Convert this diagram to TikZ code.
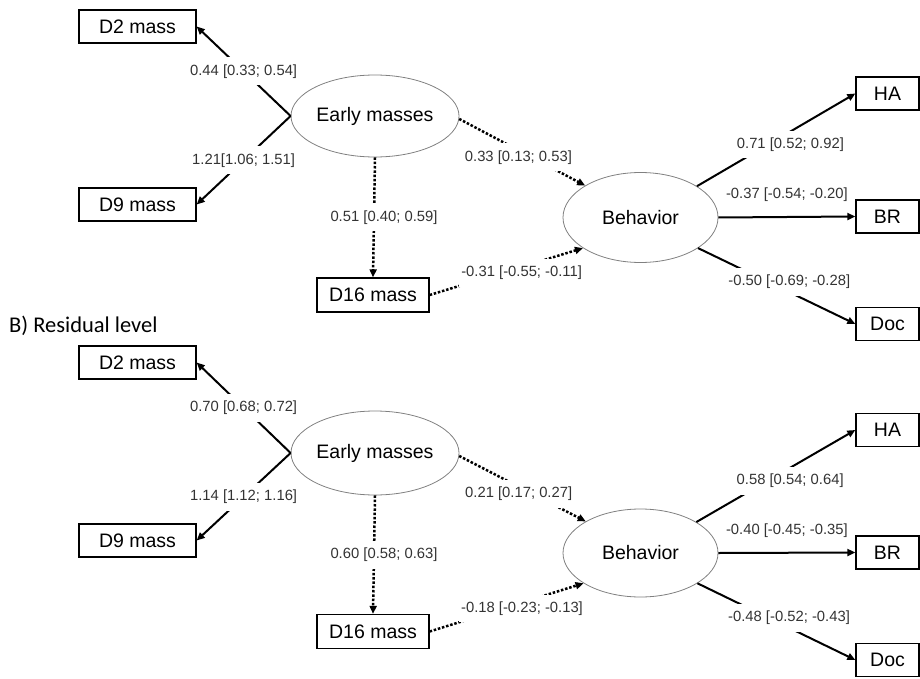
\documentclass[tikz,border=0pt]{standalone}
\usepackage{fontspec}
\setmainfont{Liberation Sans}
\newfontfamily\calibfont{Carlito}
\usetikzlibrary{shapes.geometric,arrows.meta}
\definecolor{labgray}{HTML}{333333}
\definecolor{ellgray}{HTML}{808080}
\begin{document}
\begin{tikzpicture}[x=1pt,y=-1pt,
  box/.style={draw,line width=1.3pt,minimum width=117pt,minimum height=33pt,inner sep=0pt,font=\fontsize{19.5}{20}\selectfont},
  sbox/.style={box,minimum width=63pt},
  latent/.style={ellipse,draw=ellgray,line width=0.8pt,inner sep=0pt,font=\fontsize{19.5}{20}\selectfont},
  lab/.style={fill=white,text=labgray,inner xsep=2pt,inner ysep=7pt,font=\fontsize{14.8}{15}\selectfont},
  sarr/.style={line width=2pt,-{Triangle[length=8pt,width=7pt]}},
  darr/.style={line width=2.5pt,dash pattern=on 2.5pt off 1.8pt,-{Triangle[length=8pt,width=7pt]}},
]
\useasboundingbox (0,0) rectangle (920,679);

% ---------- Panel A ----------
\node[box] (d2a) at (137.5,26.5) {D2 mass};
\node[box] (d9a) at (137.5,204.5) {D9 mass};
\node[latent,minimum width=168pt,minimum height=82pt] (ea) at (375,116) {Early masses};
\node[box,minimum width=112pt,minimum height=34pt] (d16a) at (373,295) {D16 mass};
\node[latent,minimum width=155pt,minimum height=90pt] (ba) at (640.5,217.5) {Behavior};
\node[sbox] (haa) at (887.5,93.5) {HA};
\node[sbox] (bra) at (887.5,216.5) {BR};
\node[sbox] (doca) at (887.5,324) {Doc};

\draw[sarr] (ea.west) -- node[lab]{0.44 [0.33; 0.54]} (d2a.east);
\draw[sarr] (ea.west) -- node[lab]{1.21[1.06; 1.51]} (d9a.east);
\draw[darr] (ea.south) -- node[lab,xshift=10pt]{0.51 [0.40; 0.59]} (d16a.north);
\draw[darr] (ea.-2) -- node[lab,pos=0.47,yshift=-7pt]{0.33 [0.13; 0.53]} (ba.150);
\draw[darr] (d16a.east) -- node[lab,pos=0.6,yshift=-6pt]{-0.31 [-0.55; -0.11]} (ba.208);
\draw[sarr] (ba.29) -- node[lab,pos=0.59,yshift=-13pt]{0.71 [0.52; 0.92]} (haa.west);
\draw[sarr] (ba.east) -- node[lab,inner ysep=2pt,yshift=22pt]{-0.37 [-0.54; -0.20]} (bra.west);
\draw[sarr] (ba.-28) -- node[lab,pos=0.58,yshift=10pt]{-0.50 [-0.69; -0.28]} (doca.west);

% ---------- Panel B ----------
\node[anchor=west,inner sep=0pt,font=\calibfont\fontsize{22.5}{23}\selectfont] (titleb) at (9,326) {B) Residual level};

\node[box] (d2b) at (137.5,362.5) {D2 mass};
\node[box] (d9b) at (137.5,540.5) {D9 mass};
\node[latent,minimum width=168pt,minimum height=84pt] (eb) at (375,453) {Early masses};
\node[box,minimum width=112pt,minimum height=34pt] (d16b) at (373,631.5) {D16 mass};
\node[latent,minimum width=155pt,minimum height=88pt] (bb) at (640.5,553) {Behavior};
\node[sbox] (hab) at (887.5,430) {HA};
\node[sbox] (brb) at (887.5,552.5) {BR};
\node[sbox] (docb) at (887.5,660) {Doc};

\draw[sarr] (eb.west) -- node[lab]{0.70 [0.68; 0.72]} (d2b.east);
\draw[sarr] (eb.west) -- node[lab]{1.14 [1.12; 1.16]} (d9b.east);
\draw[darr] (eb.south) -- node[lab,xshift=10pt]{0.60 [0.58; 0.63]} (d16b.north);
\draw[darr] (eb.-2) -- node[lab,pos=0.47,yshift=-7pt]{0.21 [0.17; 0.27]} (bb.150);
\draw[darr] (d16b.east) -- node[lab,pos=0.6,yshift=-6pt]{-0.18 [-0.23; -0.13]} (bb.208);
\draw[sarr] (bb.29) -- node[lab,pos=0.59,yshift=-13pt]{0.58 [0.54; 0.64]} (hab.west);
\draw[sarr] (bb.east) -- node[lab,inner ysep=2pt,yshift=22pt]{-0.40 [-0.45; -0.35]} (brb.west);
\draw[sarr] (bb.-28) -- node[lab,pos=0.58,yshift=10pt]{-0.48 [-0.52; -0.43]} (docb.west);
\end{tikzpicture}
\end{document}
